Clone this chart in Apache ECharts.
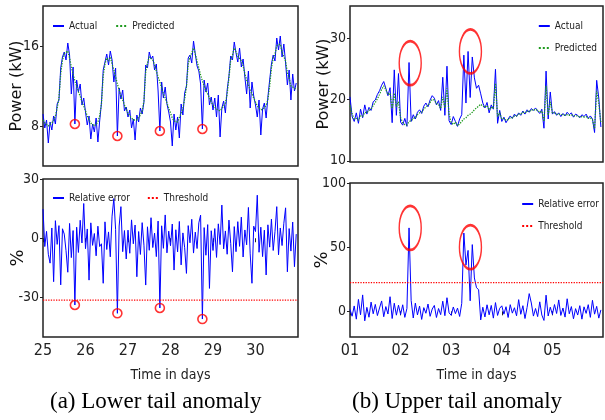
<!DOCTYPE html>
<html><head><meta charset="utf-8">
<script src="https://cdn.jsdelivr.net/npm/echarts@6/dist/echarts.min.js"></script>
<style>html,body{margin:0;padding:0;background:#fff}#c{width:605px;height:420px}</style>
</head><body><div id="c"></div>
<script>
// ---------- data ----------
const leftStartDay = 25;
const rightStartDay = 1;
const samplesPerDay = 24;

const leftDayTicks = [25, 26, 27, 28, 29, 30];
const leftPowerTicks = [8, 16];
const leftErrorTicks = [-30, 0, 30];
const rightDayTicks = [1, 2, 3, 4, 5];
const rightDayLabels = ['01', '02', '03', '04', '05'];
const rightPowerTicks = [10, 20, 30];
const rightErrorTicks = [0, 50, 100];

const leftActual = [
  9.2, 7.8, 8.6, 6.3, 8.4, 7.6, 9.0, 8.2, 10.2, 10.6, 13.8, 14.9, 15.4, 14.6, 16.3, 15.1, 11.2, 13.9, 8.2, 12.6, 11.4, 12.2, 10.1, 10.8,
  9.4, 8.1, 9.0, 6.7, 8.2, 7.4, 8.8, 6.4, 8.5, 10.3, 13.6, 14.4, 15.2, 14.1, 15.5, 14.6, 12.4, 13.8, 7.0, 11.8, 10.7, 11.6, 9.5, 9.9,
  8.9, 9.6, 7.8, 8.7, 6.6, 9.1, 8.4, 9.8, 9.2, 10.4, 14.1, 13.8, 15.4, 14.7, 15.0, 13.6, 14.2, 11.5, 7.5, 12.4, 10.8, 11.9, 10.2, 9.4,
  8.4, 6.0, 9.2, 7.6, 8.9, 6.8, 10.2, 9.1, 11.3, 12.0, 14.8, 15.1, 14.3, 16.5, 15.2, 14.0, 13.5, 12.2, 7.7, 12.6, 11.4, 12.3, 10.1, 10.9,
  9.6, 10.8, 8.9, 11.1, 6.9, 9.8, 10.5, 9.3, 11.6, 13.0, 15.0, 14.6, 16.4, 15.3, 14.4, 15.8, 13.9, 14.7, 12.9, 11.2, 13.5, 9.8, 12.4, 11.0,
  10.1, 8.9, 10.6, 7.1, 9.7, 10.3, 8.8, 10.9, 12.6, 14.2, 15.1, 14.5, 16.8, 15.6, 17.0, 14.9, 16.2, 14.3, 12.1, 13.6, 10.6, 13.2, 11.5, 12.3
];
const leftPredicted = [
  8.6, 8.3, 8.2, 8.0, 8.1, 8.3, 8.6, 9.0, 9.8, 10.8, 13.2, 14.6, 15.2, 15.0, 15.5, 14.8, 13.9, 13.2, 12.5, 12.0, 11.4, 11.0, 10.4, 10.0,
  9.5, 9.0, 8.6, 8.3, 8.1, 8.0, 8.2, 8.4, 9.0, 10.2, 13.0, 14.2, 14.8, 14.5, 14.9, 14.2, 13.6, 12.9, 12.2, 11.6, 11.0, 10.6, 10.1, 9.7,
  9.3, 9.0, 8.8, 8.6, 8.5, 8.6, 8.8, 9.1, 9.5, 10.5, 13.4, 14.3, 14.9, 14.8, 14.6, 14.1, 13.5, 12.9, 12.4, 11.8, 11.2, 10.8, 10.3, 9.8,
  9.3, 8.8, 8.5, 8.3, 8.4, 8.6, 9.3, 9.8, 10.7, 11.9, 14.2, 14.9, 15.3, 15.8, 15.2, 14.5, 13.8, 13.1, 12.5, 12.0, 11.5, 11.2, 10.8, 10.4,
  10.1, 9.9, 9.7, 9.6, 9.5, 9.7, 10.0, 10.3, 11.2, 12.8, 14.6, 15.1, 15.8, 15.6, 15.0, 15.1, 14.5, 14.0, 13.2, 12.6, 12.4, 11.6, 11.4, 10.8,
  10.4, 10.0, 9.8, 9.6, 9.6, 9.8, 10.1, 10.6, 12.0, 13.8, 14.8, 15.2, 16.0, 15.8, 16.2, 15.4, 15.3, 14.5, 13.3, 12.8, 12.0, 12.2, 11.8, 11.6
];
const leftError = [
  14.8, -4.2, 3.5, -8.1, -12.6, 5.2, -22.0, 8.9, -3.1, 6.4, -23.6, 4.8, 2.1, -6.3, -17.2, 7.5, -9.8, 3.9, -33.8, 5.6, -7.2, 9.1, -2.4, 17.6,
  -5.3, 4.7, -21.2, 7.8, -3.6, 2.4, -8.9, 6.1, -4.2, -2.8, -22.8, 8.3, -5.7, 3.2, -9.4, 11.2, 20.1, 4.5, -38.0, 6.2, 16.0, -6.8, 3.9, -10.5,
  4.1, -7.6, 9.3, -2.8, 6.7, -19.5, 3.4, -8.2, 7.9, -3.5, -23.7, 5.8, -6.1, 10.4, -4.7, 2.6, -9.3, 8.7, -35.3, 6.3, -5.1, 11.8, -7.4, 3.6,
  -3.8, 7.2, -16.1, 4.3, -6.9, 8.5, -13.5, 2.7, -4.8, -17.8, 6.4, -2.3, 9.6, -7.5, 3.1, -5.2, 7.8, 11.7, -40.9, 5.4, -8.6, 6.9, -25.4, 3.8,
  -6.2, 4.9, -9.7, 7.3, -3.2, 16.8, -5.4, 3.7, -8.1, 9.2, -2.6, -17.0, 5.9, -6.8, 8.4, -4.1, 10.7, -9.5, 4.2, -3.3, 15.6, -7.9, -22.8, 6.1,
  3.4, 21.8, -7.1, 5.6, -9.3, 4.1, -18.6, 6.8, -4.5, 9.7, -6.2, 3.3, 16.0, -8.4, 5.2, -3.7, 7.6, 15.4, -17.0, 4.9, -6.5, 8.2, -14.4, 2.1
];
const leftThreshold = -31.3;
const leftAnomalyIndex = [18, 42, 66, 90];

const rightActual = [
  20.4, 17.2, 16.4, 17.8, 16.1, 18.4, 17.0, 19.1, 17.6, 18.7, 18.2, 19.6, 19.9, 20.8, 21.4, 22.3, 22.9, 21.8, 20.6, 21.9, 16.2, 24.8, 17.4, 24.2,
  16.3, 15.8, 16.9, 15.6, 26.0, 16.4, 17.5, 16.8, 17.9, 18.3, 17.7, 18.9, 19.4, 18.8, 19.9, 20.6, 20.2, 19.1, 19.8, 18.2, 23.6, 17.4, 25.4, 16.5,
  15.9, 17.2, 16.4, 15.6, 16.8, 17.5, 27.2, 19.4, 27.8, 20.3, 26.9, 23.5, 21.8, 22.3, 20.9, 19.4, 18.6, 19.5, 17.8, 19.1, 18.4, 24.9, 16.1, 18.2,
  16.4, 17.1, 16.2, 16.8, 17.3, 16.9, 17.6, 17.2, 17.8, 17.4, 18.1, 17.6, 18.3, 17.9, 18.5, 18.2, 18.6, 18.1, 17.7, 18.4, 15.3, 24.6, 16.8, 21.2,
  17.6, 18.0, 17.4, 17.8, 17.2, 17.7, 17.3, 17.9, 17.5, 17.8, 17.1, 17.6, 17.4, 17.0, 17.5, 17.2, 17.6, 16.9, 17.3, 16.8, 14.6, 23.1, 20.2, 15.5
];
const rightPredicted = [
  19.0, 17.6, 16.8, 16.9, 16.6, 17.3, 17.2, 17.9, 17.8, 18.2, 18.4, 19.0, 19.5, 20.1, 20.8, 21.6, 22.2, 21.6, 20.8, 21.0, 18.5, 21.0, 18.8, 19.6,
  17.0, 16.2, 15.9, 15.8, 16.4, 16.5, 16.9, 17.0, 17.5, 17.8, 17.9, 18.4, 18.8, 19.0, 19.5, 20.0, 19.9, 19.3, 19.2, 18.5, 20.4, 18.6, 21.8, 17.6,
  16.2, 15.9, 16.3, 15.7, 16.0, 16.4, 16.8, 17.0, 17.4, 17.6, 17.9, 18.3, 18.6, 18.9, 19.2, 18.9, 18.7, 19.0, 18.3, 18.7, 18.5, 22.6, 17.2, 17.8,
  16.8, 16.9, 16.6, 16.7, 17.0, 17.0, 17.3, 17.3, 17.6, 17.6, 17.9, 17.8, 18.1, 18.0, 18.3, 18.2, 18.4, 18.2, 17.9, 18.1, 16.4, 22.2, 17.4, 19.6,
  17.8, 17.8, 17.6, 17.6, 17.5, 17.5, 17.4, 17.5, 17.4, 17.5, 17.3, 17.3, 17.3, 17.1, 17.2, 17.1, 17.2, 16.9, 17.0, 16.7, 15.2, 21.4, 19.4, 16.2
];
const rightError = [
  1.5, -3.8, 4.2, -6.1, 9.3, -2.7, 12.8, -7.4, 3.1, -4.6, 7.2, -1.9, 5.4, -3.3, 2.6, 8.1, -4.2, 3.7, -2.1, 11.4, -5.6, 6.3, -3.0, 4.8,
  -2.4, 5.1, -4.7, 2.3, 65.0, 8.5, -5.2, 6.4, -2.8, 4.1, -6.3, 2.9, -1.5, 5.7, -3.9, 1.8, 4.6, -4.8, 2.2, -2.6, 7.9, -3.4, 10.6, -1.2,
  -3.1, 3.4, -1.8, 2.5, -4.0, 6.2, 61.0, 36.0, 47.5, 8.2, 52.0, 26.0, 18.4, 16.9, -6.7, 3.2, -4.4, 5.1, -2.7, 4.6, -5.3, 6.8, -3.2, 2.4,
  4.3, -2.2, 3.6, -4.8, 5.2, -1.4, 2.8, -3.5, 9.1, -2.3, 4.4, -5.6, 3.1, 13.8, 6.5, -3.7, 2.2, -4.1, 7.4, -2.9, -7.1, 12.6, -3.6, 3.2,
  -2.4, 5.3, -1.7, 8.9, -3.2, 2.6, -4.5, 9.8, -1.9, 3.7, -5.8, 2.1, -2.9, 4.4, -6.1, 3.5, -1.6, 5.2, -4.7, 8.6, -2.2, 3.9, -5.3, 1.1
];
const rightThreshold = 22.3;
const rightAnomalyDays = [2.19, 3.38];
const rightAnomalyPower = [25.9, 27.8];
const rightAnomalyError = [65, 50];

// ---------- helpers ----------
const pairs = (arr, start) => arr.map((v, i) => [start + i / samplesPerDay, v]);
const tickFont = "'DejaVu Sans Condensed', 'Liberation Sans', sans-serif";
const legendText = { fontFamily: tickFont, fontSize: 10, color: '#222' };
const BLUE = '#0000ff', GREEN = '#1f9a1f', RED = '#ff0000';

function xAx(grid, min, max, ticks, labels, name) {
  return {
    type: 'value', gridIndex: grid, min: min, max: max,
    splitLine: { show: false }, axisLine: { show: false },
    axisTick: ticks ? { show: true, customValues: ticks, length: 4, lineStyle: { color: '#222' } } : { show: false },
    axisLabel: ticks ? {
      show: true, customValues: ticks, margin: 6, fontFamily: tickFont, fontSize: 16, color: '#222',
      formatter: v => labels ? labels[ticks.indexOf(v)] : String(v)
    } : { show: false },
    name: name || '', nameLocation: 'middle', nameGap: 31, nameMoveOverlap: false,
    nameTextStyle: { fontFamily: tickFont, fontSize: 14, color: '#222' }
  };
}
function yAx(grid, min, max, ticks, name, gap, nameSize) {
  return {
    type: 'value', gridIndex: grid, min: min, max: max,
    splitLine: { show: false }, axisLine: { show: false },
    axisTick: { show: true, customValues: ticks, length: 3, lineStyle: { color: '#222' } },
    axisLabel: { show: true, customValues: ticks, margin: 4, fontFamily: tickFont, fontSize: 14, color: '#222' },
    name: name, nameLocation: 'middle', nameGap: gap, nameMoveOverlap: false,
    nameTextStyle: { fontFamily: "'DejaVu Sans', sans-serif", fontSize: nameSize, color: '#111' }
  };
}
function lineS(name, x, y, data, color, type, width, z) {
  return {
    name: name, type: 'line', xAxisIndex: x, yAxisIndex: y, data: data, symbol: 'none',
    lineStyle: { color: color, width: width, type: type }, itemStyle: { color: color },
    z: z, silent: true
  };
}
function ringS(x, y, data, size, bw) {
  return {
    type: 'scatter', xAxisIndex: x, yAxisIndex: y, data: data, symbol: 'circle', symbolSize: size,
    itemStyle: { color: 'rgba(0,0,0,0)', borderColor: RED, borderWidth: bw }, z: 5, silent: true
  };
}
function legendOf(names, pos, vertical, gap) {
  return Object.assign({
    padding: 0, orient: vertical ? 'vertical' : 'horizontal',
    itemWidth: 11, itemHeight: 10, itemGap: gap, data: names,
    textStyle: legendText, selectedMode: false,
    itemStyle: { opacity: 0 }
  }, pos);
}

const leftErrPairs = pairs(leftError, leftStartDay);
const leftActPairs = pairs(leftActual, leftStartDay);
const gridBox = { show: true, borderColor: '#222', borderWidth: 1.5, backgroundColor: 'transparent' };

const option = {
  animation: false,
  backgroundColor: '#fff',
  grid: [
    Object.assign({ left: 43, top: 6, width: 255, height: 160 }, gridBox),
    Object.assign({ left: 43, top: 179, width: 255, height: 158 }, gridBox),
    Object.assign({ left: 350, top: 6, width: 253, height: 156 }, gridBox),
    Object.assign({ left: 350, top: 183, width: 253, height: 154 }, gridBox)
  ],
  xAxis: [
    xAx(0, 25, 31, null),
    xAx(1, 25, 31, leftDayTicks, null, 'Time in days'),
    xAx(2, 1, 6, null),
    xAx(3, 1, 6, rightDayTicks, rightDayLabels, 'Time in days')
  ],
  yAxis: [
    yAx(0, 4, 20, leftPowerTicks, 'Power (kW)', 18, 16),
    yAx(1, -50, 30, leftErrorTicks, '%', 16, 18),
    yAx(2, 9.8, 35.2, rightPowerTicks, 'Power (kW)', 18, 16),
    yAx(3, -20, 100, rightErrorTicks, '%', 19, 18)
  ],
  legend: [
    legendOf(['Actual', 'Predicted'], { left: 52, top: 21 }, false, 18),
    legendOf(['Relative error', 'Threshold'], { left: 52, top: 193 }, false, 17),
    legendOf(['Actual', 'Predicted'], { right: 8, top: 21 }, true, 12),
    legendOf(['Relative error', 'Threshold'], { right: 6, top: 199 }, true, 12)
  ],
  series: [
    lineS('Actual', 0, 0, leftActPairs, BLUE, 'solid', 1, 2),
    lineS('Predicted', 0, 0, pairs(leftPredicted, leftStartDay), GREEN, 'dotted', 1.3, 3),
    ringS(0, 0, leftAnomalyIndex.map(i => leftActPairs[i]), 9, 1.6),
    lineS('Relative error', 1, 1, leftErrPairs, BLUE, 'solid', 1, 2),
    lineS('Threshold', 1, 1, [[25, leftThreshold], [31, leftThreshold]], RED, 'dotted', 1.3, 3),
    ringS(1, 1, leftAnomalyIndex.map(i => leftErrPairs[i]), 9, 1.6),
    lineS('Actual', 2, 2, pairs(rightActual, rightStartDay), BLUE, 'solid', 1, 2),
    lineS('Predicted', 2, 2, pairs(rightPredicted, rightStartDay), GREEN, 'dotted', 1.3, 3),
    ringS(2, 2, rightAnomalyDays.map((d, i) => [d, rightAnomalyPower[i]]), [22, 44], 2),
    lineS('Relative error', 3, 3, pairs(rightError, rightStartDay), BLUE, 'solid', 1, 2),
    lineS('Threshold', 3, 3, [[1, rightThreshold], [6, rightThreshold]], RED, 'dotted', 1.3, 3),
    ringS(3, 3, rightAnomalyDays.map((d, i) => [d, rightAnomalyError[i]]), [22, 44], 2)
  ],
  graphic: [
    { type: 'text', left: 50, top: 390, style: { text: '(a) Lower tail anomaly', font: "23px 'Liberation Serif', 'DejaVu Serif', serif", fill: '#000' } },
    { type: 'text', left: 352, top: 390, style: { text: '(b) Upper tail anomaly', font: "23px 'Liberation Serif', 'DejaVu Serif', serif", fill: '#000' } }
  ]
};

const chart = echarts.init(document.getElementById('c'), null, { renderer: 'canvas' });
chart.setOption(option);
</script>
</body></html>
